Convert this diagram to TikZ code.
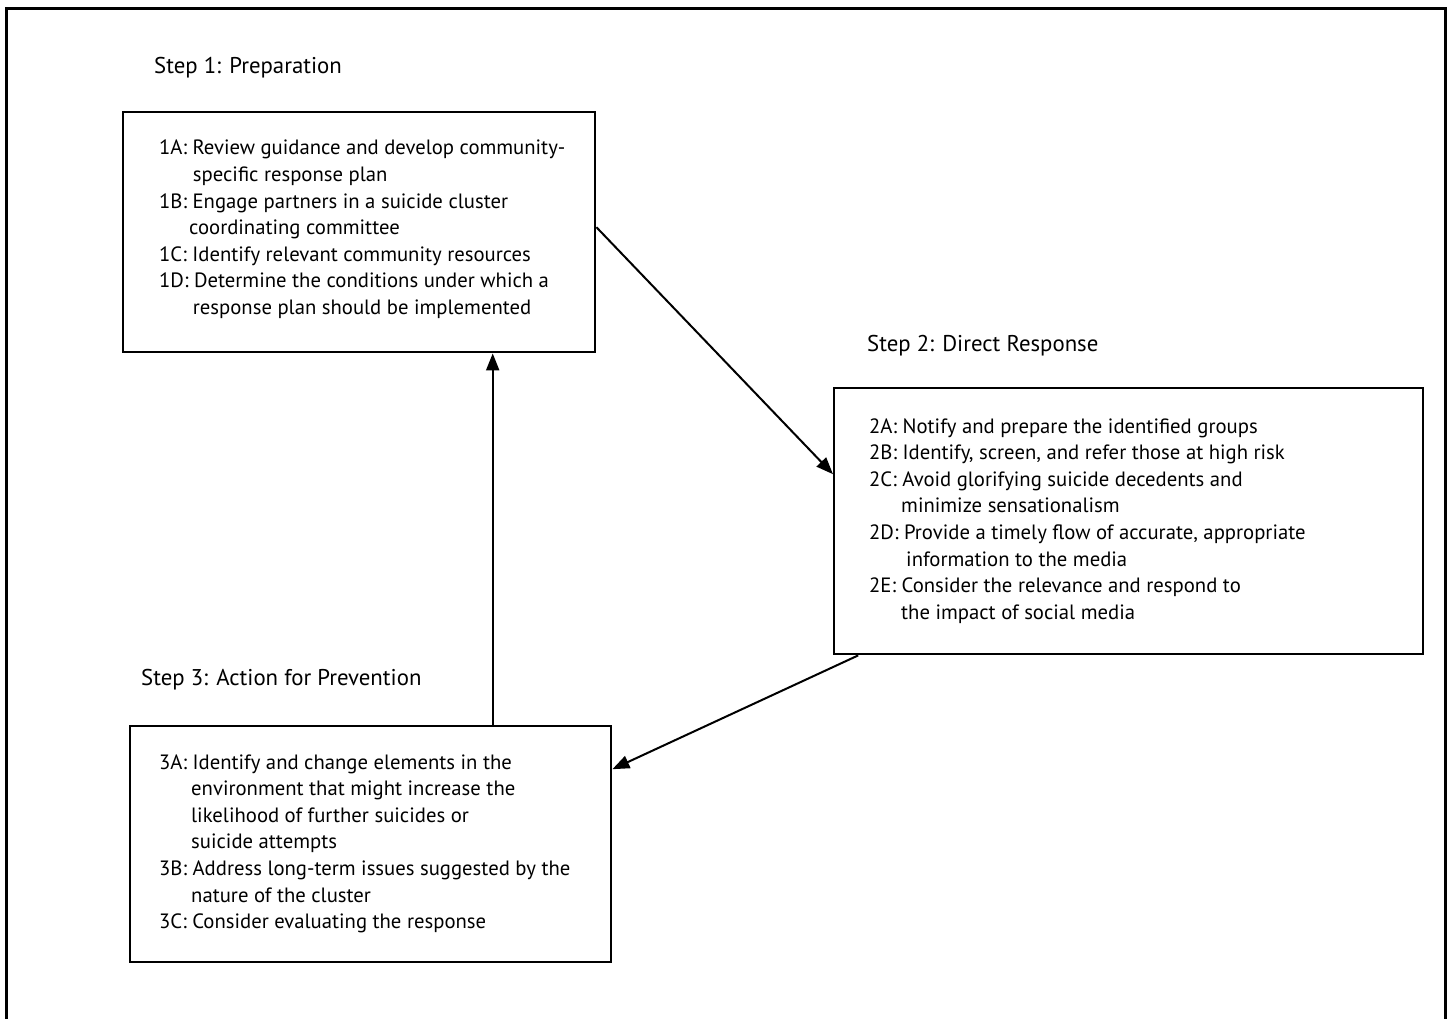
\documentclass[tikz,border=0pt]{standalone}
\usepackage{fontspec}
\setmainfont{PT Sans}
\usetikzlibrary{arrows.meta}
\tikzset{
  box/.style={draw, line width=2.4pt, inner sep=0pt, anchor=north west},
  steplabel/.style={anchor=base west, inner sep=0pt, font=\fontsize{22.8}{27}\selectfont},
  boxtext/.style={anchor=base west, inner sep=0pt},
  conn/.style={line width=2pt, -{Triangle[length=17pt,width=13pt]}},
  frame/.style={line width=3pt}
}
\newcommand{\btext}[2]{\parbox[t]{#1}{\fontsize{20.7}{26.6}\selectfont\raggedright #2}}
\begin{document}
\begin{tikzpicture}[x=1pt,y=-1pt]
\useasboundingbox (0,0) rectangle (1452,1019);
\fill[white] (0,0) rectangle (1452,1019);
\draw[frame] (6,1025) -- (6,9) -- (1445,9) -- (1445,1025);

\node[steplabel] (l1) at (154,74) {Step 1: Preparation};
\node[steplabel] (l2) at (867,351) {Step 2: Direct Response};
\node[steplabel] (l3) at (141,685) {Step 3: Action for Prevention};

\node[box, minimum width=472pt, minimum height=240pt] (b1) at (122,111) {};
\node[box, minimum width=589pt, minimum height=266pt] (b2) at (833,387) {};
\node[box, minimum width=481pt, minimum height=236pt] (b3) at (129,725) {};

\node[boxtext] (t1) at (159,155) {\btext{430pt}{%
1A: Review guidance and develop community-\\
\hspace*{33.7pt}specific response plan\\
1B: Engage partners in a suicide cluster\\
\hspace*{30pt}coordinating committee\\
1C: Identify relevant community resources\\
1D: Determine the conditions under which a\\
\hspace*{33.7pt}response plan should be implemented}};

\node[boxtext] (t2) at (869,433) {\btext{560pt}{%
2A: Notify and prepare the identified groups\\
2B: Identify, screen, and refer those at high risk\\
2C: Avoid glorifying suicide decedents and\\
\hspace*{32pt}minimize sensationalism\\
2D: Provide a timely flow of accurate, appropriate\\
\hspace*{37pt}information to the media\\
2E: Consider the relevance and respond to\\
\hspace*{32pt}the impact of social media}};

\node[boxtext] (t3) at (159,769) {\btext{450pt}{%
3A: Identify and change elements in the\\
\hspace*{32pt}environment that might increase the\\
\hspace*{32pt}likelihood of further suicides or\\
\hspace*{32pt}suicide attempts\\
3B: Address long-term issues suggested by the\\
\hspace*{32pt}nature of the cluster\\
3C: Consider evaluating the response}};

\draw[conn] ([yshift=5pt]b1.east) -- ([yshift=47pt]b2.west);
\draw[conn] ([xshift=-270.5pt]b2.south) -- ([yshift=75pt]b3.east);
\draw[conn] ([xshift=122pt]b3.north) -- ([xshift=122pt]b3.north |- b1.south);
\end{tikzpicture}
\end{document}
